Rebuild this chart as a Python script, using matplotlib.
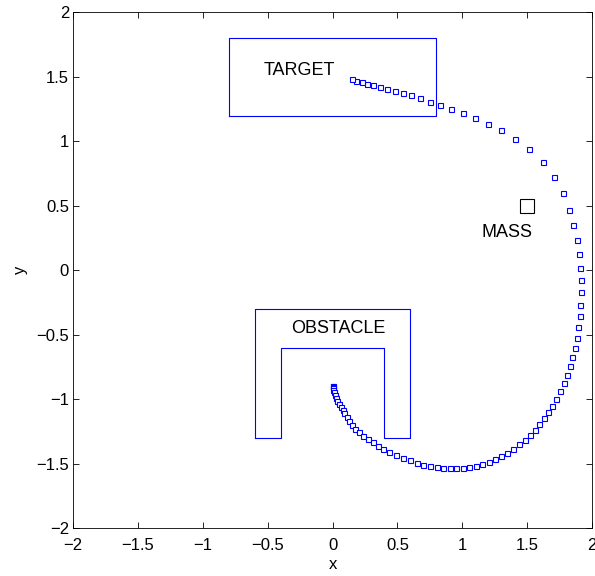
import matplotlib
matplotlib.use("Agg")
import matplotlib.pyplot as plt

plt.rcParams['font.family'] = ['Liberation Sans', 'DejaVu Sans']

# trajectory of the mass
traj_x = [0.000, 0.001, 0.002, 0.004, 0.006, 0.012, 0.019, 0.027, 0.037, 0.050,
          0.063, 0.078, 0.091, 0.109, 0.129, 0.150, 0.175, 0.206, 0.237, 0.273,
          0.309, 0.350, 0.391, 0.437, 0.488, 0.540, 0.594, 0.648, 0.698, 0.750,
          0.802, 0.852, 0.902, 0.950, 1.002, 1.050, 1.102, 1.152, 1.202, 1.250,
          1.298, 1.345, 1.394, 1.437, 1.481, 1.519, 1.560, 1.594, 1.629, 1.660,
          1.694, 1.725, 1.755, 1.781, 1.806, 1.827, 1.848, 1.865, 1.881, 1.894,
          1.904, 1.909, 1.912, 1.912, 1.906, 1.896, 1.881, 1.855, 1.826, 1.777,
          1.709, 1.619, 1.514, 1.406, 1.298, 1.196, 1.096, 1.002, 0.914, 0.829,
          0.750, 0.675, 0.606, 0.540, 0.481, 0.422, 0.365, 0.314, 0.268, 0.225,
          0.181, 0.148]
traj_y = [-0.895, -0.900, -0.905, -0.912, -0.926, -0.947, -0.967, -0.991, -1.014, -1.040,
          -1.064, -1.087, -1.110, -1.141, -1.172, -1.203, -1.231, -1.257, -1.283, -1.309,
          -1.335, -1.360, -1.384, -1.407, -1.433, -1.456, -1.474, -1.495, -1.510, -1.521,
          -1.529, -1.536, -1.536, -1.536, -1.531, -1.526, -1.518, -1.502, -1.484, -1.464,
          -1.440, -1.415, -1.384, -1.350, -1.314, -1.275, -1.236, -1.192, -1.149, -1.102,
          -1.050, -0.996, -0.936, -0.878, -0.810, -0.743, -0.673, -0.601, -0.523, -0.440,
          -0.355, -0.267, -0.172, -0.074, 0.019, 0.126, 0.234, 0.350, 0.471, 0.600,
          0.725, 0.843, 0.944, 1.022, 1.089, 1.138, 1.182, 1.223, 1.254, 1.285,
          1.309, 1.337, 1.358, 1.376, 1.394, 1.409, 1.422, 1.436, 1.446, 1.459,
          1.471, 1.482]

# obstacle outline (U shape) and target box
obstacle_x = [-0.6, -0.6, 0.6, 0.6, 0.4, 0.4, -0.4, -0.4, -0.6]
obstacle_y = [-1.3, -0.3, -0.3, -1.3, -1.3, -0.6, -0.6, -1.3, -1.3]
target_x = [-0.8, 0.8, 0.8, -0.8, -0.8]
target_y = [1.2, 1.2, 1.8, 1.8, 1.2]
mass_x = [1.5]
mass_y = [0.5]

fig = plt.figure(figsize=(5.95, 5.76), dpi=100)
ax = fig.add_axes([0.123, 0.0833, 0.872, 0.895])

ax.plot(obstacle_x, obstacle_y, color='#0000ff', lw=0.8)
ax.plot(target_x, target_y, color='#0000ff', lw=0.8)
ax.plot(traj_x, traj_y, linestyle='none', marker='s', markersize=3.6,
        markerfacecolor='white', markeredgecolor='#0000ff', markeredgewidth=0.8)
ax.plot(mass_x, mass_y, linestyle='none', marker='s', markersize=10,
        markerfacecolor='none', markeredgecolor='black', markeredgewidth=0.8)

ax.text(-0.535, 1.55, 'TARGET', fontsize=13, va='center', ha='left')
ax.text(-0.32, -0.45, 'OBSTACLE', fontsize=13, va='center', ha='left')
ax.text(1.15, 0.29, 'MASS', fontsize=13, va='center', ha='left')

ax.set_xlim(-2, 2)
ax.set_ylim(-2, 2)
ticks = [-2, -1.5, -1, -0.5, 0, 0.5, 1, 1.5, 2]
ax.set_xticks(ticks)
ax.set_yticks(ticks)
ax.set_xticklabels(['\u22122', '\u22121.5', '\u22121', '\u22120.5', '0', '0.5', '1', '1.5', '2'])
ax.set_yticklabels(['\u22122', '\u22121.5', '\u22121', '\u22120.5', '0', '0.5', '1', '1.5', '2'])
ax.tick_params(direction='in', top=True, right=True, length=4, width=0.6, labelsize=12, pad=3)
ax.tick_params(axis='x', pad=7)
for s in ax.spines.values():
    s.set_linewidth(0.6)
ax.set_xlabel('x', fontsize=12, labelpad=3)
ax.set_ylabel('y', fontsize=12, labelpad=6)

fig.savefig('out.png', dpi=100)
